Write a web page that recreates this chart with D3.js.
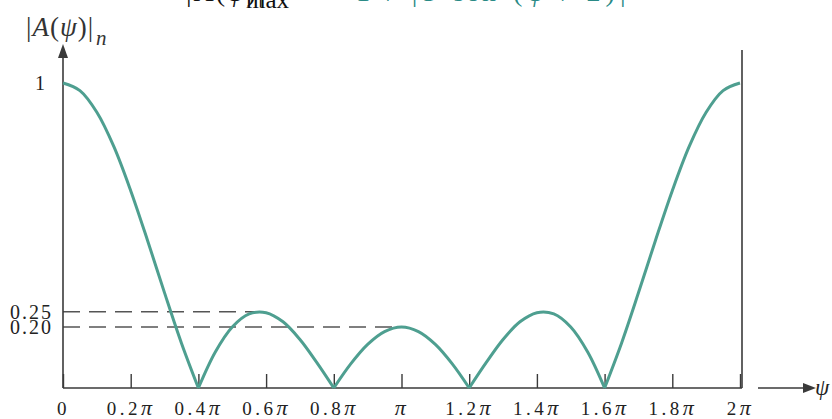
<!DOCTYPE html>
<html><head><meta charset="utf-8">
<script src="https://cdn.jsdelivr.net/npm/d3@7"></script>
<style>
html,body{margin:0;padding:0;background:#fff;}
svg{display:block;}
text{font-family:"Liberation Serif","DejaVu Serif",serif;}
</style></head>
<body>
<svg id="chart" width="832" height="419"></svg>
<script>
const psi = [0,0.05,0.1,0.15,0.2,0.25,0.3,0.35,0.4,0.45,0.5,0.55,0.6,0.65,0.7,0.75,0.8,0.85,0.9,0.95,1.0,
             1.05,1.1,1.15,1.2,1.25,1.3,1.35,1.4,1.45,1.5,1.55,1.6,1.65,1.7,1.75,1.8,1.85,1.9,1.95,2.0];
const amp = [1,0.975,0.904,0.792,0.647,0.483,0.312,0.147,0,0.118,0.2,0.243,0.247,0.217,0.159,0.083,0,0.079,0.143,0.185,0.2,
             0.185,0.143,0.079,0,0.083,0.159,0.217,0.247,0.243,0.2,0.118,0,0.147,0.312,0.483,0.647,0.792,0.904,0.975,1];
const xTicks = [0,0.2,0.4,0.6,0.8,1.0,1.2,1.4,1.6,1.8,2.0];
const xTickLabels = ["0","0.2","0.4","0.6","0.8","","1.2","1.4","1.6","1.8","2"];
const yTicks = [1,0.25,0.20];
const yTickLabels = ["1","0.25","0.20"];
const refLevels = [{v:0.25, at:0.6},{v:0.20, at:1.0}];

const svg = d3.select("#chart");
const x = d3.scaleLinear().domain([0,2]).range([63,740]);
const y = d3.scaleLinear().domain([0,1]).range([388,83]);
const axisColor = "#3a3a3a";
const teal = "#4e9f90";

// top cut-off formula text
const bt = svg.append("text").attr("x",186).attr("y",1).attr("font-size",28).attr("fill","#111")
  .attr("letter-spacing","2px");
bt.append("tspan").text("|A(");
bt.append("tspan").attr("font-style","italic").text("ψ");
bt.append("tspan").text(")|");
svg.append("text").attr("x",246).attr("y",8).attr("font-size",25).attr("fill","#111").text("max");
const tf = svg.append("text").attr("x",356).attr("y",1).attr("font-size",28).attr("fill","#2a8a86")
  .attr("letter-spacing","5px");
tf.append("tspan").text("1 / |5 sin (");
tf.append("tspan").attr("font-style","italic").text("ψ");
tf.append("tspan").text(" / 2)|");

// dashed reference lines
svg.selectAll("line.ref").data(refLevels).join("line")
  .attr("class","ref")
  .attr("x1",x(0)).attr("x2",d=>x(d.at)-9)
  .attr("y1",d=>y(d.v)).attr("y2",d=>y(d.v))
  .attr("stroke","#555").attr("stroke-width",1.3).attr("stroke-dasharray","17,9");

// x axis
const xAxis = d3.axisBottom(x).tickValues(xTicks).tickSizeInner(-14).tickSizeOuter(0).tickPadding(14)
  .tickFormat((d,i)=>xTickLabels[i]);
const gx = svg.append("g").attr("transform",`translate(0,${y(0)})`).call(xAxis);
gx.select(".domain").attr("stroke",axisColor).attr("stroke-width",1.6).attr("d",`M${x(0)},0H${x(2)+2}`);
gx.selectAll(".tick line").attr("stroke",axisColor).attr("stroke-width",1.4);
gx.selectAll(".tick text").attr("fill","#222").attr("font-size",19).attr("font-family","Liberation Serif")
  .attr("letter-spacing","3.5px")
  .each(function(d,i){
    const t = d3.select(this);
    t.text(xTickLabels[i]);
    if(d!==0){
      t.append("tspan").attr("font-style","italic").attr("font-size",22).text("π");
    }
  });

// y axis line with arrow
svg.append("line").attr("x1",x(0)).attr("x2",x(0)).attr("y1",y(0)).attr("y2",56)
  .attr("stroke",axisColor).attr("stroke-width",1.6);
svg.append("path").attr("d",`M${x(0)},44L${x(0)-5},58L${x(0)+5},58Z`).attr("fill",axisColor);
// right border
svg.append("line").attr("x1",x(2)+2).attr("x2",x(2)+2).attr("y1",y(0)).attr("y2",50)
  .attr("stroke",axisColor).attr("stroke-width",1.6);

// y tick labels
const yAxis = d3.axisLeft(y).tickValues(yTicks).tickSize(0).tickPadding(10).tickFormat((d,i)=>yTickLabels[i]);
const gy = svg.append("g").attr("transform",`translate(${x(0)},0)`).call(yAxis);
gy.select(".domain").remove();
gy.selectAll(".tick text").attr("fill","#222").attr("font-size",20).attr("font-family","Liberation Serif")
  .attr("letter-spacing","2px")
  .attr("dx",d=>d===1?-6:0);

// y label
const yl = svg.append("text").attr("x",26).attr("y",36).attr("font-size",27).attr("fill","#333")
  .attr("letter-spacing","1px");
yl.append("tspan").text("|");
yl.append("tspan").attr("font-style","italic").text("A");
yl.append("tspan").text("(");
yl.append("tspan").attr("font-style","italic").text("ψ");
yl.append("tspan").text(")|");
svg.append("text").attr("x",96).attr("y",45).attr("font-size",21).attr("font-style","italic").attr("fill","#333").text("n");

// psi arrow
svg.append("line").attr("x1",758).attr("x2",806).attr("y1",y(0)).attr("y2",y(0)).attr("stroke",axisColor).attr("stroke-width",1.6);
svg.append("path").attr("d",`M816,${y(0)}L803,${y(0)-5}L803,${y(0)+5}Z`).attr("fill",axisColor);
svg.append("text").attr("x",815).attr("y",y(0)+7).attr("font-size",23).attr("font-style","italic").attr("fill","#222").text("ψ");

// curve, drawn lobe by lobe between nulls
const pts = psi.map((p,i)=>({p, a:amp[i]}));
const lobes = [];
let cur = [];
pts.forEach(d=>{
  cur.push(d);
  if(d.a===0 && cur.length>1){ lobes.push(cur); cur=[d]; }
});
if(cur.length>1) lobes.push(cur);
const line = d3.line().x(d=>x(d.p)).y(d=>y(d.a)).curve(d3.curveCatmullRom.alpha(0.5));
svg.selectAll("path.lobe").data(lobes).join("path").attr("class","lobe")
  .attr("d",line).attr("fill","none").attr("stroke",teal).attr("stroke-width",3)
  .attr("stroke-linejoin","round");
</script>
</body></html>
